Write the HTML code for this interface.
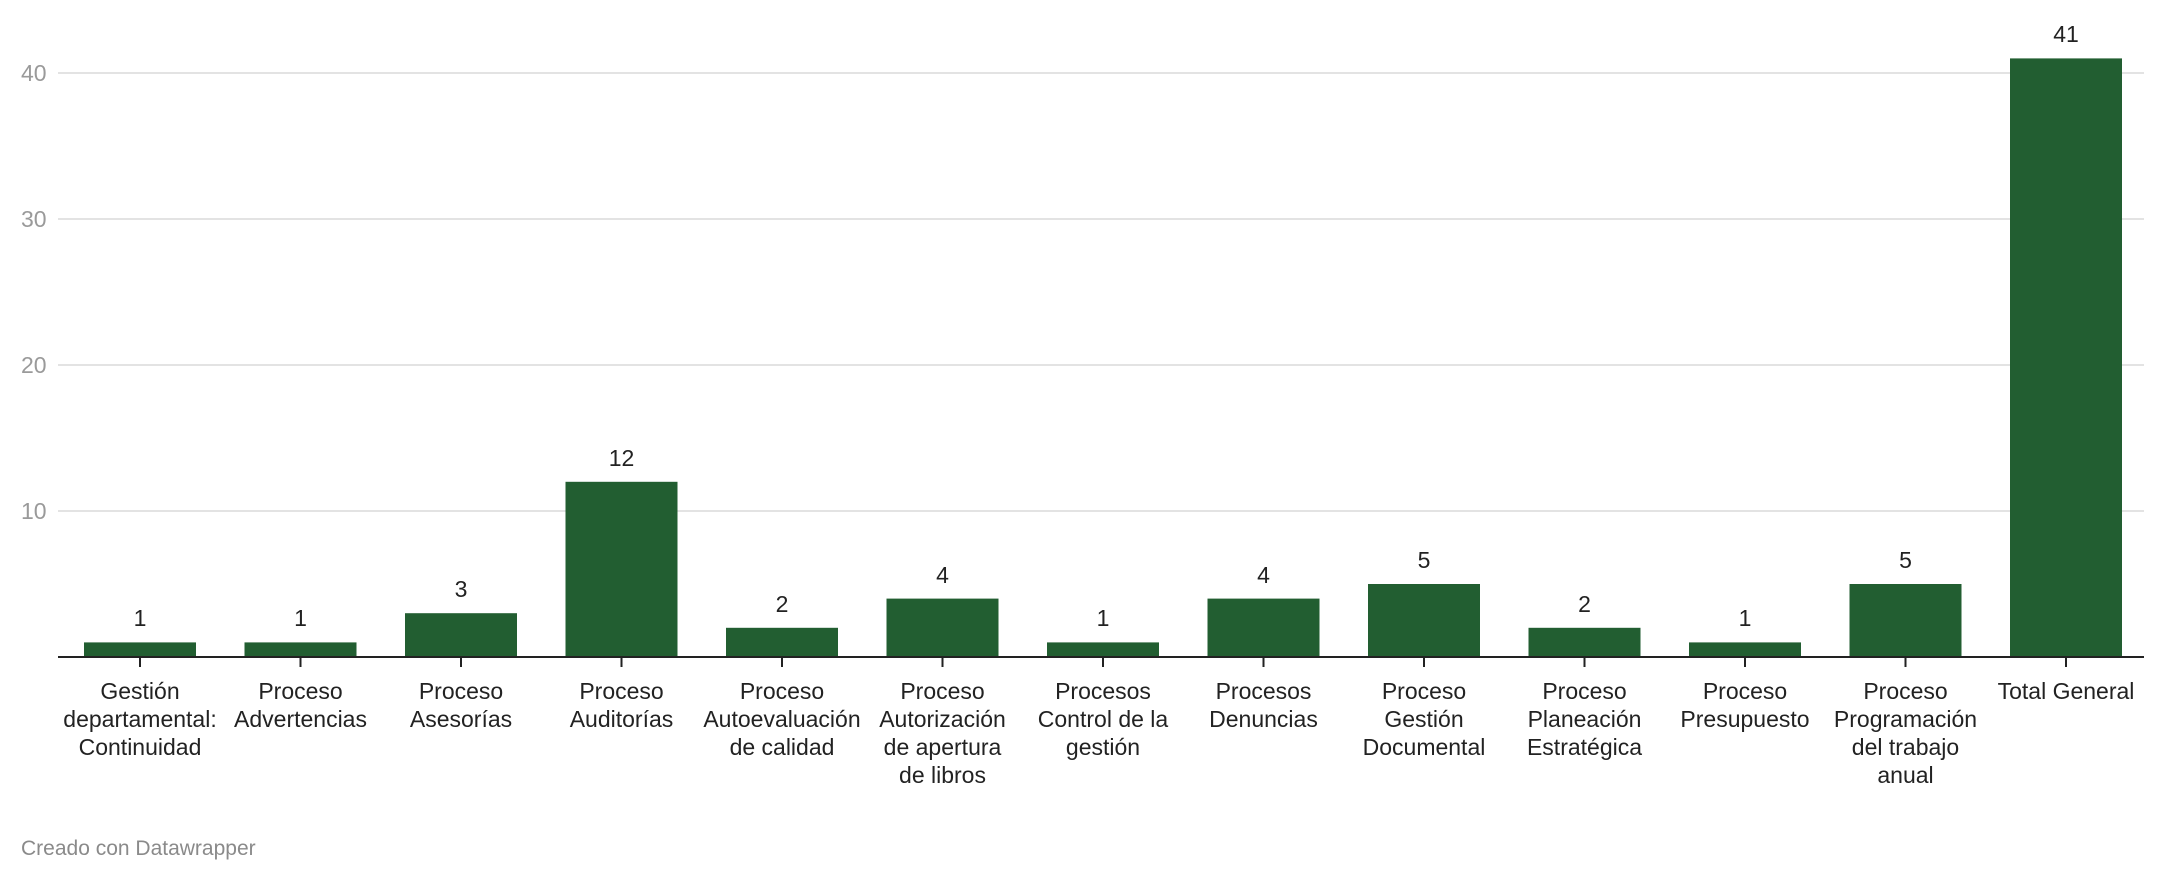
<!DOCTYPE html>
<html><head><meta charset="utf-8"><style>
body{margin:0;background:#fff;}
svg{display:block;font-family:"Liberation Sans",sans-serif;}
</style></head><body>
<svg width="2164" height="882" viewBox="0 0 2164 882" xmlns="http://www.w3.org/2000/svg">
<g stroke="#e3e3e3" stroke-width="2">
<line x1="58" y1="73" x2="2144" y2="73"/>
<line x1="58" y1="219" x2="2144" y2="219"/>
<line x1="58" y1="365" x2="2144" y2="365"/>
<line x1="58" y1="511" x2="2144" y2="511"/>
</g>
<g fill="#9a9a9a" font-size="23">
<text x="21" y="81">40</text>
<text x="21" y="227">30</text>
<text x="21" y="373">20</text>
<text x="21" y="519">10</text>
</g>
<g fill="#225e31">
<rect x="84" y="642.4" width="112" height="14.6"/>
<rect x="244.5" y="642.4" width="112" height="14.6"/>
<rect x="405" y="613.2" width="112" height="43.8"/>
<rect x="565.5" y="481.8" width="112" height="175.2"/>
<rect x="726" y="627.8" width="112" height="29.2"/>
<rect x="886.5" y="598.6" width="112" height="58.4"/>
<rect x="1047" y="642.4" width="112" height="14.6"/>
<rect x="1207.5" y="598.6" width="112" height="58.4"/>
<rect x="1368" y="584" width="112" height="73"/>
<rect x="1528.5" y="627.8" width="112" height="29.2"/>
<rect x="1689" y="642.4" width="112" height="14.6"/>
<rect x="1849.5" y="584" width="112" height="73"/>
<rect x="2010" y="58.4" width="112" height="598.6"/>
</g>
<line x1="58" y1="657" x2="2144" y2="657" stroke="#222" stroke-width="2"/>
<g stroke="#222" stroke-width="2">
<line x1="140" y1="657" x2="140" y2="667"/><line x1="300.5" y1="657" x2="300.5" y2="667"/>
<line x1="461" y1="657" x2="461" y2="667"/><line x1="621.5" y1="657" x2="621.5" y2="667"/>
<line x1="782" y1="657" x2="782" y2="667"/><line x1="942.5" y1="657" x2="942.5" y2="667"/>
<line x1="1103" y1="657" x2="1103" y2="667"/><line x1="1263.5" y1="657" x2="1263.5" y2="667"/>
<line x1="1424" y1="657" x2="1424" y2="667"/><line x1="1584.5" y1="657" x2="1584.5" y2="667"/>
<line x1="1745" y1="657" x2="1745" y2="667"/><line x1="1905.5" y1="657" x2="1905.5" y2="667"/>
<line x1="2066" y1="657" x2="2066" y2="667"/>
</g>
<g fill="#222" font-size="23" text-anchor="middle">
<text x="140" y="626">1</text><text x="300.5" y="626">1</text>
<text x="461" y="597">3</text><text x="621.5" y="466">12</text>
<text x="782" y="612">2</text><text x="942.5" y="583">4</text>
<text x="1103" y="626">1</text><text x="1263.5" y="583">4</text>
<text x="1424" y="568">5</text><text x="1584.5" y="612">2</text>
<text x="1745" y="626">1</text><text x="1905.5" y="568">5</text>
<text x="2066" y="42">41</text>
</g>
<g fill="#222" font-size="23" text-anchor="middle">
<text x="140" y="699">Gestión</text><text x="140" y="727">departamental:</text><text x="140" y="755">Continuidad</text>
<text x="300.5" y="699">Proceso</text><text x="300.5" y="727">Advertencias</text>
<text x="461" y="699">Proceso</text><text x="461" y="727">Asesorías</text>
<text x="621.5" y="699">Proceso</text><text x="621.5" y="727">Auditorías</text>
<text x="782" y="699">Proceso</text><text x="782" y="727">Autoevaluación</text><text x="782" y="755">de calidad</text>
<text x="942.5" y="699">Proceso</text><text x="942.5" y="727">Autorización</text><text x="942.5" y="755">de apertura</text><text x="942.5" y="783">de libros</text>
<text x="1103" y="699">Procesos</text><text x="1103" y="727">Control de la</text><text x="1103" y="755">gestión</text>
<text x="1263.5" y="699">Procesos</text><text x="1263.5" y="727">Denuncias</text>
<text x="1424" y="699">Proceso</text><text x="1424" y="727">Gestión</text><text x="1424" y="755">Documental</text>
<text x="1584.5" y="699">Proceso</text><text x="1584.5" y="727">Planeación</text><text x="1584.5" y="755">Estratégica</text>
<text x="1745" y="699">Proceso</text><text x="1745" y="727">Presupuesto</text>
<text x="1905.5" y="699">Proceso</text><text x="1905.5" y="727">Programación</text><text x="1905.5" y="755">del trabajo</text><text x="1905.5" y="783">anual</text>
<text x="2066" y="699">Total General</text>
</g>
<text x="21" y="855" fill="#8a8a8a" font-size="21">Creado con Datawrapper</text>
</svg>
</body></html>
